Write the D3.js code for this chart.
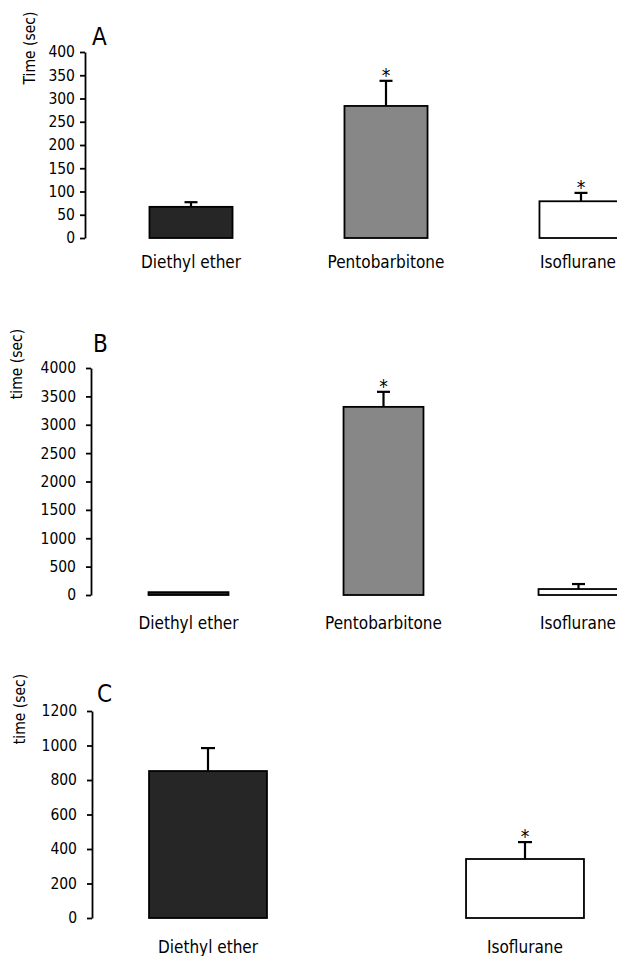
<!DOCTYPE html>
<html>
<head>
<meta charset="utf-8">
<script src="https://cdn.jsdelivr.net/npm/d3@7"></script>
<style>
  body { margin: 0; background: #fff; }
  svg { display: block; }
  text { font-family: 'DejaVu Sans Condensed', 'DejaVu Sans', sans-serif; fill: #000; }
  .axis path, .axis line { stroke: #000; stroke-width: 1.8; }
</style>
</head>
<body>
<div id="chart"></div>
<script>
// panel A
let categoriesA = ['Diethyl ether', 'Pentobarbitone', 'Isoflurane']
let valuesA = [67, 284, 79]
let errorsA = [10, 54, 18]
let starsA = [false, true, true]
let ticksA = [0, 50, 100, 150, 200, 250, 300, 350, 400]

// panel B
let categoriesB = ['Diethyl ether', 'Pentobarbitone', 'Isoflurane']
let valuesB = [50, 3315, 105]
let errorsB = [0, 265, 88]
let starsB = [false, true, false]
let ticksB = [0, 500, 1000, 1500, 2000, 2500, 3000, 3500, 4000]

// panel C
let categoriesC = ['Diethyl ether', 'Isoflurane']
let valuesC = [852, 342]
let errorsC = [133, 98]
let starsC = [false, true]
let ticksC = [0, 200, 400, 600, 800, 1000, 1200]

let fills = {
  'Diethyl ether': '#262626',
  Pentobarbitone: '#878787',
  Isoflurane: '#ffffff'
}

let width = 617
let height = 956

let svg = d3
  .select('#chart')
  .append('svg')
  .attr('width', width)
  .attr('height', height)

let panels = [
  {
    letter: 'A', yLabel: 'Time (sec)',
    categories: categoriesA, values: valuesA, errors: errorsA, stars: starsA, ticks: ticksA,
    axisX: 85, yTop: 52, yBottom: 238, xRange: [93.5, 678.5], padding: 0.574,
    tickPad: 5, letterPos: [92, 45], yLabelPos: [30, 48], labelY: 268, capW: 13
  },
  {
    letter: 'B', yLabel: 'time (sec)',
    categories: categoriesB, values: valuesB, errors: errorsB, stars: starsB, ticks: ticksB,
    axisX: 91, yTop: 368, yBottom: 595, xRange: [91, 676], padding: 0.59,
    tickPad: 10, letterPos: [93, 352], yLabelPos: [17, 364], labelY: 629, capW: 13
  },
  {
    letter: 'C', yLabel: 'time (sec)',
    categories: categoriesC, values: valuesC, errors: errorsC, stars: starsC, ticks: ticksC,
    axisX: 92, yTop: 711, yBottom: 918, xRange: [49.5, 683.5], padding: 0.628,
    tickPad: 10, letterPos: [97, 702], yLabelPos: [20, 709], labelY: 953, capW: 14
  }
]

panels.forEach(p => {
  let g = svg.append('g')

  let yScale = d3
    .scaleLinear()
    .domain([0, p.ticks[p.ticks.length - 1]])
    .range([p.yBottom, p.yTop])

  let xScale = d3
    .scaleBand()
    .domain(p.categories)
    .range(p.xRange)
    .paddingInner(p.padding)
    .paddingOuter(p.padding / 2)

  let rows = p.categories.map((c, i) => {
    return { name: c, value: p.values[i], err: p.errors[i], star: p.stars[i] }
  })

  let cx = d => xScale(d.name) + xScale.bandwidth() / 2

  // bars
  g.selectAll('.bar')
    .data(rows)
    .enter()
    .append('rect')
    .attr('class', 'bar')
    .attr('x', d => xScale(d.name))
    .attr('width', xScale.bandwidth())
    .attr('y', d => yScale(d.value))
    .attr('height', d => yScale(0) - yScale(d.value))
    .attr('fill', d => fills[d.name])
    .attr('stroke', '#000')
    .attr('stroke-width', 1.8)

  // error bars, upper half only
  let withErr = rows.filter(d => d.err > 0)

  g.selectAll('.err')
    .data(withErr)
    .enter()
    .append('line')
    .attr('class', 'err')
    .attr('x1', cx)
    .attr('x2', cx)
    .attr('y1', d => yScale(d.value))
    .attr('y2', d => yScale(d.value + d.err))
    .attr('stroke', '#000')
    .attr('stroke-width', 2.2)

  g.selectAll('.cap')
    .data(withErr)
    .enter()
    .append('line')
    .attr('class', 'cap')
    .attr('x1', d => cx(d) - p.capW / 2)
    .attr('x2', d => cx(d) + p.capW / 2)
    .attr('y1', d => yScale(d.value + d.err))
    .attr('y2', d => yScale(d.value + d.err))
    .attr('stroke', '#000')
    .attr('stroke-width', 2.2)

  g.selectAll('.star')
    .data(rows.filter(d => d.star))
    .enter()
    .append('text')
    .attr('class', 'star')
    .attr('x', cx)
    .attr('y', d => yScale(d.value + d.err) + 1)
    .attr('text-anchor', 'middle')
    .attr('font-size', 19)
    .text('*')

  // y axis
  let yAxis = d3
    .axisLeft(yScale)
    .tickValues(p.ticks)
    .tickSize(5)
    .tickSizeOuter(0)
    .tickPadding(p.tickPad)
    .tickFormat(d3.format('d'))

  let ax = g
    .append('g')
    .attr('class', 'axis')
    .attr('transform', 'translate(' + p.axisX + ',0)')
    .call(yAxis)
  ax.selectAll('text')
    .attr('font-size', 15.5)
    .attr('fill', '#000')
    .style('font-family', "'DejaVu Sans Condensed', 'DejaVu Sans', sans-serif")

  // category labels, pulled in if they'd run off the right edge
  g.selectAll('.cat')
    .data(rows)
    .enter()
    .append('text')
    .attr('class', 'cat')
    .attr('x', cx)
    .attr('y', p.labelY)
    .attr('text-anchor', 'middle')
    .attr('font-size', 17)
    .text(d => d.name)
    .each(function(d) {
      let half = this.getComputedTextLength() / 2
      if (cx(d) + half > width - 1) {
        d3.select(this).attr('x', width - 1 - half)
      }
    })

  // panel letter
  g.append('text')
    .attr('x', p.letterPos[0])
    .attr('y', p.letterPos[1])
    .attr('font-size', 24)
    .text(p.letter)

  // y label
  g.append('text')
    .attr('transform', 'translate(' + p.yLabelPos[0] + ',' + p.yLabelPos[1] + ') rotate(-90)')
    .attr('text-anchor', 'middle')
    .attr('dy', '0.35em')
    .attr('font-size', 15.5)
    .text(p.yLabel)
})
</script>
</body>
</html>
